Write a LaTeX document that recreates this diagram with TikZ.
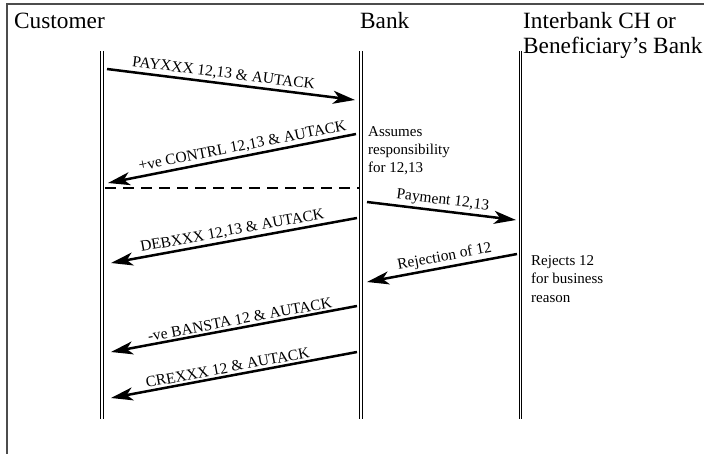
\documentclass[tikz,border=0pt]{standalone}
\usepackage{fontspec}
\setmainfont{Liberation Serif}
\usetikzlibrary{arrows.meta}

\begin{document}
\begin{tikzpicture}[x=1pt,y=-1pt,
	lifeline/.style={double,double distance=1.6pt,line width=0.8pt},
	msg/.style={line width=2.5pt,-{Stealth[length=22pt,width=13pt,inset=6pt]}},
	msglabel/.style={font=\fontsize{15.5}{18}\selectfont,above,sloped,inner sep=2pt},
	note/.style={font=\fontsize{15}{18}\selectfont,align=left,anchor=base west,inner sep=0pt},
	actor/.style={font=\fontsize{23.3}{25}\selectfont,align=left,anchor=base west,inner sep=0pt}]

	\clip (0,0) rectangle (704,454);
	\draw[black!70, line width=1.2pt] (7,4) rectangle (720,470);

	\node[actor] (cust)  at (14,29)  {Customer};
	\node[actor] (bank)  at (360,29) {Bank};
	\node[actor] (ibank) at (523,54) {Interbank CH or\\Beneficiary's Bank};

	\coordinate (cu) at (102,51);   \coordinate (cd) at (102,419);
	\coordinate (bu) at (361,51);   \coordinate (bd) at (361,419);
	\coordinate (iu) at (520.5,51); \coordinate (id) at (520.5,419);

	\draw[lifeline] (cu) -- (cd);
	\draw[lifeline] (bu) -- (bd);
	\draw[lifeline] (iu) -- (id);

	\coordinate (a1) at (107,69);  \coordinate (a2) at (355,100);
	\coordinate (b1) at (356,134); \coordinate (b2) at (108,183);
	\coordinate (d1) at (105,188); \coordinate (d2) at (359,188);
	\coordinate (e1) at (357,218); \coordinate (e2) at (111,263);
	\coordinate (f1) at (367,202); \coordinate (f2) at (516,220);
	\coordinate (g1) at (517,254); \coordinate (g2) at (367,282);
	\coordinate (h1) at (357,306); \coordinate (h2) at (111,352);
	\coordinate (k1) at (357,352); \coordinate (k2) at (111,398);

	\draw[msg] (a1) -- node[msglabel,pos=0.465]{PAYXXX 12,13 \& AUTACK} (a2);
	\draw[msg] (b1) -- node[msglabel,pos=0.45]{+ve CONTRL 12,13 \& AUTACK} (b2);
	\draw[line width=2.5pt,dash pattern=on 11pt off 7pt] (d1) -- (d2);
	\draw[msg] (e1) -- node[msglabel]{DEBXXX 12,13 \& AUTACK} (e2);
	\draw[msg] (f1) -- node[msglabel]{Payment 12,13} (f2);
	\draw[msg] (g1) -- node[msglabel,pos=0.47]{Rejection of 12} (g2);
	\draw[msg] (h1) -- node[msglabel,pos=0.47]{-ve BANSTA 12 \& AUTACK} (h2);
	\draw[msg] (k1) -- node[msglabel,pos=0.52]{CREXXX 12 \& AUTACK} (k2);

	\node[note] (resp) at (368,173) {Assumes\\responsibility\\for 12,13};
	\node[note] (rej)  at (531,302) {Rejects 12\\for business\\reason};

\end{tikzpicture}
\end{document}
